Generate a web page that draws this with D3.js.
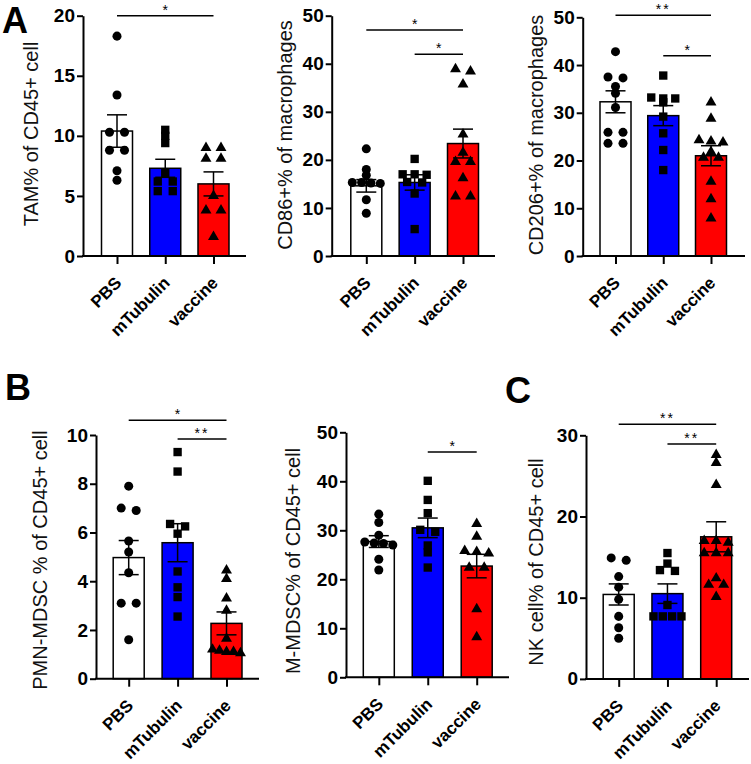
<!DOCTYPE html>
<html><head><meta charset="utf-8">
<script src="https://cdn.jsdelivr.net/npm/d3@7"></script>
<style>
body{margin:0;background:#fff}
svg{display:block}
text{font-family:Arial,"Liberation Sans",sans-serif}
</style>
</head><body>
<svg id="chart" width="751" height="764"></svg>
<script>
// ---------- DATA ----------
const categories = ["PBS", "mTubulin", "vaccine"];

// Panel A (left): TAM% of CD45+ cell
const tamValues = [
  [18.3, 13.4, 10.3, 10.3, 8.8, 8.8, 7.1, 6.3],
  [10.5, 10.0, 9.4, 6.9, 6.2, 6.2, 5.4, 5.4],
  [9.0, 9.0, 8.1, 8.1, 5.0, 3.8, 3.8, 1.6]
];
const tamMean = [10.4, 7.3, 6.0];
const tamSEM = [1.35, 0.75, 1.0];
const tamTicks = [0, 5, 10, 15, 20];
const tamSig = [["PBS", "vaccine", "*"]];

// Panel A (middle): CD86+% of macrophages
const cd86Values = [
  [22.3, 18.0, 16.8, 15.3, 15.3, 15.2, 15.1, 11.7, 8.9],
  [20.2, 17.0, 17.0, 16.9, 15.4, 15.3, 13.0, 5.6],
  [38.9, 38.4, 35.7, 25.3, 21.5, 19.6, 19.6, 16.2, 12.4, 12.4]
];
const cd86Mean = [14.6, 15.3, 23.4];
const cd86SEM = [1.3, 1.6, 3.0];
const cd86Ticks = [0, 10, 20, 30, 40, 50];
const cd86Sig = [["PBS", "vaccine", "*"], ["mTubulin", "vaccine", "*"]];

// Panel A (right): CD206+% of macrophages
const cd206Values = [
  [42.8, 37.5, 37.3, 35.5, 34.1, 31.1, 25.9, 25.9, 23.6, 23.6],
  [37.8, 33.2, 33.0, 33.0, 32.2, 29.2, 25.7, 22.2, 18.0],
  [32.2, 28.8, 24.3, 24.0, 23.8, 21.8, 20.6, 20.6, 15.6, 11.9, 7.9]
];
const cd206Mean = [32.3, 29.4, 21.0];
const cd206SEM = [2.3, 2.1, 2.1];
const cd206Ticks = [0, 10, 20, 30, 40, 50];
const cd206Sig = [["PBS", "vaccine", "**"], ["mTubulin", "vaccine", "*"]];

// Panel B (left): PMN-MDSC % of CD45+ cell
const pmnValues = [
  [7.9, 7.0, 6.9, 5.65, 5.2, 4.35, 3.1, 3.1, 1.6],
  [9.3, 8.5, 6.35, 6.25, 5.95, 4.4, 3.75, 3.35, 2.55],
  [4.45, 4.1, 3.3, 2.8, 1.65, 1.2, 1.15, 1.1, 1.1, 1.05]
];
const pmnMean = [4.97, 5.58, 2.27];
const pmnSEM = [0.7, 0.78, 0.47];
const pmnTicks = [0, 2, 4, 6, 8, 10];
const pmnSig = [["PBS", "vaccine", "*"], ["mTubulin", "vaccine", "**"]];

// Panel B (right): M-MDSC% of CD45+ cell
const mmdscValues = [
  [33.3, 31.6, 29.0, 27.6, 27.4, 27.3, 27.0, 24.1, 21.9],
  [40.1, 36.2, 33.5, 30.1, 29.7, 26.9, 25.5, 22.4],
  [31.3, 28.7, 25.8, 25.6, 25.3, 22.4, 22.4, 13.9, 8.2]
];
const mmdscMean = [27.7, 30.5, 22.7];
const mmdscSEM = [1.2, 2.0, 2.4];
const mmdscTicks = [0, 10, 20, 30, 40, 50];
const mmdscSig = [["mTubulin", "vaccine", "*"]];

// Panel C: NK cell% of CD45+ cell
const nkValues = [
  [14.9, 14.6, 12.6, 11.3, 9.8, 7.7, 6.3, 5.0],
  [15.5, 14.2, 13.4, 13.3, 9.1, 7.7, 7.7, 7.7, 7.7],
  [27.6, 26.6, 23.9, 17.0, 17.0, 16.8, 15.5, 15.5, 15.5, 12.4, 11.6, 11.6, 10.1]
];
const nkMean = [10.4, 10.5, 17.5];
const nkSEM = [1.3, 1.2, 1.85];
const nkTicks = [0, 10, 20, 30];
const nkSig = [["PBS", "vaccine", "**"], ["mTubulin", "vaccine", "**"]];

const yTitles = [
  "TAM% of CD45+ cell", "CD86+% of macrophages", "CD206+% of macrophages",
  "PMN-MDSC % of CD45+ cell", "M-MDSC% of CD45+ cell", "NK cell% of CD45+ cell"
];
const panelLetters = ["A", "B", "C"];

// ---------- LAYOUT / STYLE ----------
const barColors = ["#ffffff", "#0000ff", "#ff0000"];
const symbolTypes = [d3.symbolCircle, d3.symbolSquare, d3.symbolTriangle];
const symbolSizes = [64, 70, 52];
const BAR_W = 31;

const panels = [
  {vals: tamValues, mean: tamMean, sem: tamSEM, ticks: tamTicks, sig: tamSig, title: yTitles[0],
   x0: 83, c0: 117, c2: 213.5, xEnd: 246, yTop: 15.7, y0: 256, titleX: 38, titleY: 134, sigY: [15.7]},
  {vals: cd86Values, mean: cd86Mean, sem: cd86SEM, ticks: cd86Ticks, sig: cd86Sig, title: yTitles[1],
   x0: 331.7, c0: 366.3, c2: 463, xEnd: 495, yTop: 15.7, y0: 256, titleX: 292, titleY: 135, sigY: [30, 54.3]},
  {vals: cd206Values, mean: cd206Mean, sem: cd206SEM, ticks: cd206Ticks, sig: cd206Sig, title: yTitles[2],
   x0: 582.7, c0: 615.5, c2: 711, xEnd: 745, yTop: 17.3, y0: 256, titleX: 543, titleY: 135, sigY: [15.3, 55.7]},
  {vals: pmnValues, mean: pmnMean, sem: pmnSEM, ticks: pmnTicks, sig: pmnSig, title: yTitles[3],
   x0: 96, c0: 128.7, c2: 226.5, xEnd: 259, yTop: 435, y0: 678.7, titleX: 46.5, titleY: 560, sigY: [420.3, 439]},
  {vals: mmdscValues, mean: mmdscMean, sem: mmdscSEM, ticks: mmdscTicks, sig: mmdscSig, title: yTitles[4],
   x0: 346, c0: 378.8, c2: 476.7, xEnd: 509, yTop: 432.3, y0: 677.3, titleX: 300, titleY: 561, sigY: [452]},
  {vals: nkValues, mean: nkMean, sem: nkSEM, ticks: nkTicks, sig: nkSig, title: yTitles[5],
   x0: 586, c0: 618.7, c2: 716.2, xEnd: 749, yTop: 435.3, y0: 678.9, titleX: 543, titleY: 562, sigY: [424.3, 444]}
];

const letterPos = [[2, 33], [5, 400], [505, 403]];

const svg = d3.select("#chart");

function layoutPoints(vals, y) {
  const pts = vals.map(v => ({v, py: y(v)})).sort((a, b) => a.py - b.py);
  const rows = [];
  for (const d of pts) {
    const last = rows[rows.length - 1];
    if (last && d.py - last[0].py < 4) last.push(d); else rows.push([d]);
  }
  rows.forEach(r => {
    const n = r.length;
    const s = n === 1 ? 0 : n === 2 ? 15 : n === 3 ? 12 : 28 / (n - 1);
    r.forEach((d, i) => d.dx = (i - (n - 1) / 2) * s);
  });
  return pts;
}

function drawPanel(p) {
  const g = svg.append("g");
  const y = d3.scaleLinear().domain([0, p.ticks[p.ticks.length - 1]]).range([p.y0, p.yTop]);
  const x = d3.scalePoint().domain(categories).range([p.c0, p.c2]);

  // bars
  g.selectAll("rect.bar").data(categories).join("rect")
    .attr("x", c => x(c) - BAR_W / 2)
    .attr("y", (c, i) => y(p.mean[i]))
    .attr("width", BAR_W)
    .attr("height", (c, i) => p.y0 - y(p.mean[i]))
    .attr("fill", (c, i) => barColors[i])
    .attr("stroke", "#000").attr("stroke-width", 1.5);

  // points
  categories.forEach((c, i) => {
    const pts = layoutPoints(p.vals[i], y);
    g.selectAll(null).data(pts).join("path")
      .attr("d", d3.symbol().type(symbolTypes[i]).size(symbolSizes[i]))
      .attr("transform", d => `translate(${x(c) + d.dx},${d.py})`)
      .attr("fill", "#000");
  });

  // error bars
  categories.forEach((c, i) => {
    const cx = x(c), hi = y(p.mean[i] + p.sem[i]), lo = y(p.mean[i] - p.sem[i]);
    const eg = g.append("g").attr("stroke", "#000").attr("stroke-width", 1.5);
    eg.append("line").attr("x1", cx).attr("x2", cx).attr("y1", hi).attr("y2", lo);
    eg.append("line").attr("x1", cx - 10).attr("x2", cx + 10).attr("y1", hi).attr("y2", hi);
    eg.append("line").attr("x1", cx - 10).attr("x2", cx + 10).attr("y1", lo).attr("y2", lo);
  });

  // y axis
  const ya = d3.axisLeft(y).tickValues(p.ticks).tickSize(6).tickPadding(2).tickSizeOuter(0);
  const yg = g.append("g").attr("transform", `translate(${p.x0},0)`).call(ya);
  yg.select(".domain").attr("stroke-width", 2);
  yg.selectAll(".tick line").attr("stroke-width", 2);
  yg.selectAll(".tick text").attr("font-size", 19).attr("font-weight", "bold")
    .attr("fill", "#000").style("font-family", "Arial, 'Liberation Sans', sans-serif");

  // x axis baseline and ticks
  const xa = d3.axisBottom(x).tickSize(8).tickSizeOuter(0).tickFormat("");
  const xg = g.append("g").attr("transform", `translate(0,${p.y0})`).call(xa);
  xg.select(".domain").remove();
  xg.selectAll(".tick line").attr("stroke-width", 2);
  g.append("line").attr("x1", p.x0 - 1).attr("x2", p.xEnd)
    .attr("y1", p.y0).attr("y2", p.y0).attr("stroke", "#000").attr("stroke-width", 2);

  // category labels
  g.selectAll("text.cat").data(categories).join("text")
    .attr("class", "cat")
    .attr("transform", c => `translate(${x(c) + 5.5},${p.y0 + 28}) rotate(-45)`)
    .attr("text-anchor", "end")
    .attr("font-size", 17).attr("font-weight", "bold")
    .text(c => c);

  // y title
  g.append("text")
    .attr("transform", `translate(${p.titleX},${p.titleY}) rotate(-90)`)
    .attr("text-anchor", "middle")
    .attr("font-size", 20)
    .attr("fill", "#111")
    .text(p.title);

  // significance
  p.sig.forEach((s, k) => {
    const ly = p.sigY[k];
    g.append("line").attr("x1", x(s[0])).attr("x2", x(s[1]))
      .attr("y1", ly).attr("y2", ly).attr("stroke", "#000").attr("stroke-width", 1.5);
    g.append("text").attr("x", (x(s[0]) + x(s[1])) / 2).attr("y", ly - 1)
      .attr("text-anchor", "middle").attr("font-size", 14)
      .attr("letter-spacing", s[2].length > 1 ? 2 : 0)
      .text(s[2]);
  });
}

panels.forEach(drawPanel);

panelLetters.forEach((L, i) => {
  svg.append("text").attr("x", letterPos[i][0]).attr("y", letterPos[i][1])
    .attr("font-size", 36).attr("font-weight", "bold").text(L);
});
</script>
</body></html>
